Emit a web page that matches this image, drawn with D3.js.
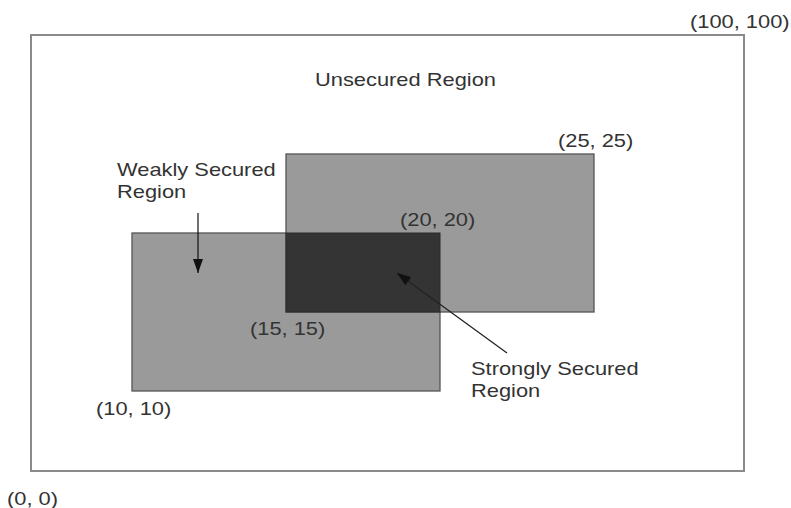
<!DOCTYPE html>
<html><head><meta charset="utf-8">
<script src="https://cdn.jsdelivr.net/npm/d3@7"></script>
<style>
html,body{margin:0;padding:0;background:#fff;}
text{font-family:"Liberation Sans",Arial,sans-serif;font-size:19px;fill:#333;}
</style></head>
<body>
<svg id="c" width="791" height="508"></svg>
<script>
// ---- data ----
const outerBox = {x0: 0, y0: 0, x1: 100, y1: 100};
const regions = [
  {name: "A", x0: 10, y0: 10, x1: 20, y1: 20},
  {name: "B", x0: 15, y0: 15, x1: 25, y1: 25}
];
const cornerLabels = ["(0, 0)", "(10, 10)", "(15, 15)", "(20, 20)", "(25, 25)", "(100, 100)"];
const cornerValues = [0, 10, 15, 20, 25, 100];
const regionNames = ["Unsecured Region", "Weakly Secured Region", "Strongly Secured Region"];

// schematic (non-uniform) scales
const x = d3.scaleLinear().domain([0, 10, 15, 20, 25, 100]).range([31, 132, 286, 440, 594, 744]);
const y = d3.scaleLinear().domain([0, 10, 15, 20, 25, 100]).range([471, 391, 312, 233, 154, 35]);

const svg = d3.select("#c");
const defs = svg.append("defs");
defs.append("marker").attr("id", "ah").attr("viewBox", "0 0 14 10")
  .attr("refX", 14).attr("refY", 5).attr("markerWidth", 14).attr("markerHeight", 10)
  .attr("preserveAspectRatio", "none")
  .attr("markerUnits", "userSpaceOnUse").attr("orient", "auto")
  .append("path").attr("d", "M0,0L14,5L0,10Z").attr("fill", "#111");

// outer box
svg.append("rect")
  .attr("x", x(outerBox.x0)).attr("y", y(outerBox.y1))
  .attr("width", x(outerBox.x1) - x(outerBox.x0))
  .attr("height", y(outerBox.y0) - y(outerBox.y1))
  .attr("fill", "none").attr("stroke", "#8a8a8a").attr("stroke-width", 2);

// regions
svg.selectAll("rect.reg").data(regions).join("rect").attr("class", "reg")
  .attr("x", d => x(d.x0)).attr("y", d => y(d.y1))
  .attr("width", d => x(d.x1) - x(d.x0)).attr("height", d => y(d.y0) - y(d.y1))
  .attr("fill", "#9a9a9a").attr("stroke", "#555").attr("stroke-width", 1.3);

// intersection
const inter = {
  x0: d3.max(regions, d => d.x0), y0: d3.max(regions, d => d.y0),
  x1: d3.min(regions, d => d.x1), y1: d3.min(regions, d => d.y1)
};
svg.append("rect")
  .attr("x", x(inter.x0)).attr("y", y(inter.y1))
  .attr("width", x(inter.x1) - x(inter.x0)).attr("height", y(inter.y0) - y(inter.y1))
  .attr("fill", "#343434").attr("stroke", "#2a2a2a").attr("stroke-width", 1);

// corner labels (pixel offsets from the corner they name)
const cornerOffsets = [[-24, 34], [-36, 24], [-36, 23], [-40, -7], [-36, -7], [-54, -7]];
const STRETCH = 1.15;
function addText(str, px, py) {
  const t = svg.append("text").attr("x", px).attr("y", py).text(str);
  const len = t.node().getComputedTextLength();
  t.attr("textLength", len * STRETCH).attr("lengthAdjust", "spacingAndGlyphs");
  return t;
}
cornerLabels.forEach((lab, i) => {
  const v = cornerValues[i];
  addText(lab, x(v) + cornerOffsets[i][0], y(v) + cornerOffsets[i][1]);
});

// region names
addText(regionNames[0], 315, 86);
addText("Weakly Secured", 117, 176);
addText("Region", 117, 198);
addText("Strongly Secured", 471, 375);
addText("Region", 471, 397);

// arrows
svg.append("line").attr("x1", 198).attr("y1", 213).attr("x2", 198).attr("y2", 273)
  .attr("stroke", "#111").attr("stroke-width", 1.2).attr("marker-end", "url(#ah)");
svg.append("line").attr("x1", 507).attr("y1", 353).attr("x2", 397).attr("y2", 273)
  .attr("stroke", "#222").attr("stroke-width", 1.2).attr("marker-end", "url(#ah)");
</script>
</body></html>
